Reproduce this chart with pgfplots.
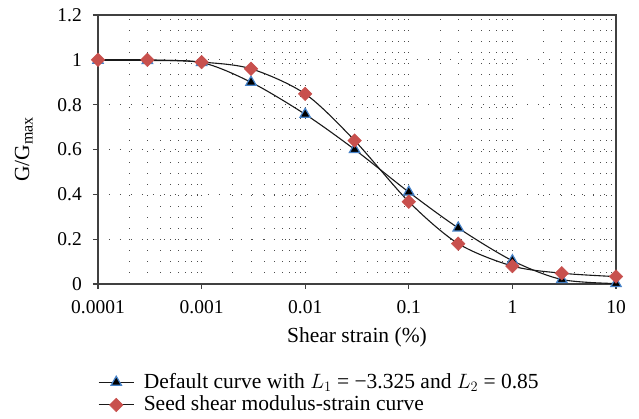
\documentclass[border=0pt]{standalone}
\usepackage{fontspec}
\setmainfont{Liberation Serif}
\usepackage{pgfplots}
\pgfplotsset{compat=1.18}
\definecolor{seedred}{RGB}{200,80,77}
\definecolor{triblue}{RGB}{70,130,200}
\definecolor{axgray}{RGB}{64,64,64}
\begin{document}
\fontsize{21}{25}\selectfont
\begin{tikzpicture}
\begin{axis}[
  at={(0pt,0pt)}, anchor=south west,
  scale only axis,
  width=518pt, height=269pt,
  xmode=log,
  xmin=1e-4, xmax=10,
  ymin=0, ymax=1.2,
  xtick={1e-4,1e-3,1e-2,1e-1,1,10},
  xticklabels={0.0001,0.001,0.01,0.1,1,10},
  ytick={0,0.2,0.4,0.6,0.8,1,1.2},
  yticklabels={0,0.2,0.4,0.6,0.8,1,1.2},
  tick align=outside,
  tick pos=left,
  minor tick length=0pt,
  major tick length=5pt,
  xminorgrids=true, xmajorgrids=true, ymajorgrids=true,
  grid style={dash pattern=on 1pt off 10pt, black!70, line width=0.7pt},
  minor grid style={dash pattern=on 1pt off 10pt, black!70, line width=0.7pt},
  axis line style={axgray, line width=1.2pt},
  tick style={axgray, line width=1.2pt},
  ticklabel style={font=\fontsize{19.5}{22}\selectfont},
  xticklabel style={yshift=-4pt},
  yticklabel style={xshift=-4pt},
  /pgf/number format/assume math mode=true,
  xlabel={Shear strain (\%)},
  ylabel={G/G\raisebox{-0.35ex}{\fontsize{16}{16}\selectfont max}},
  label style={font=\fontsize{21.5}{25}\selectfont},
  xlabel style={at={(axis description cs:0.5,-0.2)}, anchor=center},
  ylabel style={at={(axis description cs:-0.143,0.5)}, anchor=center},
  legend style={draw=none, fill=none, at={(axis description cs:0,-0.325)}, anchor=north west,
    inner sep=0pt, nodes={inner sep=1.5pt}, row sep=1.5pt,
    /tikz/every odd column/.append style={column sep=8pt},
    font=\fontsize{21.5}{24}\selectfont},
  legend cell align=left,
  legend image code/.code={\draw[mark repeat=2,mark phase=2,#1] plot coordinates {(0pt,0pt) (17.5pt,0pt) (35pt,0pt)};},
]
\addplot[black!90, line width=1.1pt, smooth, mark=triangle*, mark size=6pt,
  mark options={fill=black, draw=triblue, line width=1.2pt}]
  coordinates {(0.0001,0.998) (0.0003,0.997) (0.001,0.988) (0.003,0.90) (0.01,0.757) (0.03,0.60) (0.1,0.41) (0.3,0.25) (1,0.104) (3,0.02) (10,0.002)};
\addlegendentry{Default curve with $L_1$ = −3.325 and $L_2$ = 0.85}
\addplot[black!90, line width=1.1pt, smooth, mark=square*, mark size=4.8pt,
  mark options={fill=seedred, draw=seedred, rotate=45, line width=0.5pt}]
  coordinates {(0.0001,1.0) (0.0003,1.0) (0.001,0.99) (0.003,0.96) (0.01,0.848) (0.03,0.64) (0.1,0.367) (0.3,0.18) (1,0.08) (3,0.048) (10,0.033)};
\addlegendentry{Seed shear modulus-strain curve}
\end{axis}
\pgfresetboundingbox
\path[use as bounding box] (-98pt,-135pt) rectangle (541pt,284pt);
\end{tikzpicture}
\end{document}
